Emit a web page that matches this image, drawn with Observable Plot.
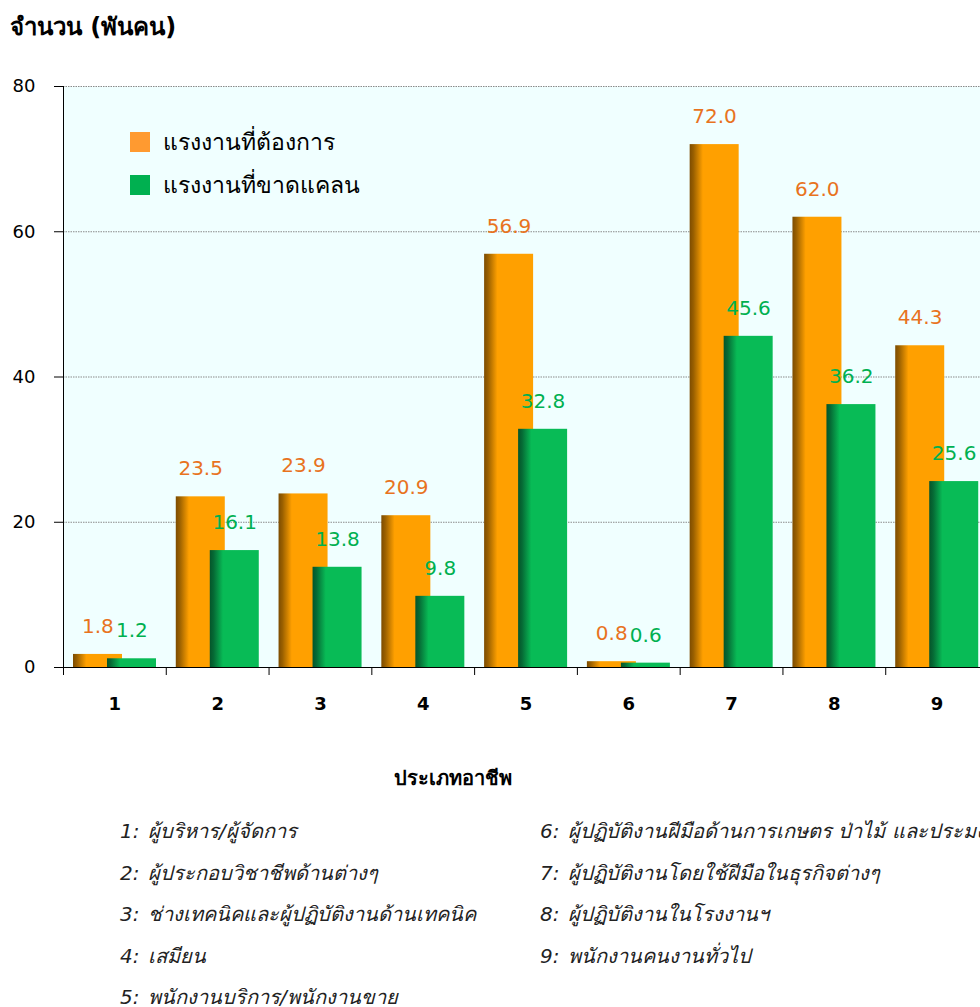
<!DOCTYPE html>
<html>
<head>
<meta charset="utf-8">
<script src="https://cdn.jsdelivr.net/npm/d3@7"></script>
<script src="https://cdn.jsdelivr.net/npm/@observablehq/plot@0.6"></script>
<style>
  html, body { margin:0; padding:0; background:#fff; overflow:hidden; width:980px; height:1007px; }
  #wrap { position:relative; width:1000px; height:1007px; font-family:Tahoma, "DejaVu Sans", "Noto Sans", sans-serif; }
  #ytitle { position:absolute; left:10px; top:7px; font-size:24px; font-weight:bold; color:#000; white-space:nowrap; }
  #chart { position:absolute; left:0; top:0; }
  #legend { position:absolute; left:130px; top:120px; font-size:23px; color:#000; }
  #legend .row { display:flex; align-items:center; height:43px; white-space:nowrap; }
  #legend .sw { width:20px; height:20px; margin-right:13px; }
  #xtitle { position:absolute; left:453px; top:762px; transform:translateX(-50%); font-size:20px; font-weight:bold; white-space:nowrap; }
  .occ { position:absolute; font-size:20px; font-style:italic; color:#222; white-space:nowrap; }
  .occ span.n { display:inline-block; width:28px; }
</style>
</head>
<body>
<div id="wrap">
  <div id="chart"></div>
  <div id="ytitle"></div>
  <div id="legend"></div>
  <div id="xtitle"></div>
  <div id="occs"></div>
</div>
<script>
const categories = ["1","2","3","4","5","6","7","8","9"];
const wanted = [1.8, 23.5, 23.9, 20.9, 56.9, 0.8, 72.0, 62.0, 44.3];
const shortage = [1.2, 16.1, 13.8, 9.8, 32.8, 0.6, 45.6, 36.2, 25.6];
const yTicks = [0, 20, 40, 60, 80];
const seriesNames = ["แรงงานที่ต้องการ", "แรงงานที่ขาดแคลน"];
const yTitle = "จำนวน (พันคน)";
const xTitle = "ประเภทอาชีพ";
const occupations = [
  "ผู้บริหาร/ผู้จัดการ",
  "ผู้ประกอบวิชาชีพด้านต่างๆ",
  "ช่างเทคนิคและผู้ปฏิบัติงานด้านเทคนิค",
  "เสมียน",
  "พนักงานบริการ/พนักงานขาย",
  "ผู้ปฏิบัติงานฝีมือด้านการเกษตร ป่าไม้ และประมง",
  "ผู้ปฏิบัติงานโดยใช้ฝีมือในธุรกิจต่างๆ",
  "ผู้ปฏิบัติงานในโรงงานฯ",
  "พนักงานคนงานทั่วไป"
];

const data = categories.map((c, i) => ({cat: c, wanted: wanted[i], shortage: shortage[i]}));
const W = 1000, mL = 63, mR = 12;
const bw = (W - mL - mR) / categories.length;

const svg = Plot.plot({
  width: W,
  height: 730,
  marginTop: 86,
  marginLeft: mL,
  marginRight: mR,
  marginBottom: 63,
  style: {fontFamily: "'DejaVu Sans', Verdana, sans-serif", fontSize: "18px", color: "#000", background: "transparent", overflow: "visible"},
  x: {type: "band", domain: categories, padding: 0, round: false, label: null},
  y: {domain: [0, 80], label: null},
  marks: [
    Plot.frame({fill: "#f0ffff", stroke: null}),
    Plot.gridY(yTicks.slice(1), {stroke: "#8a8a8a", strokeOpacity: 1, strokeDasharray: "1.5,1", strokeWidth: 1}),
    Plot.barY(data, {x: "cat", y: "wanted", fill: "url(#gOr)", insetLeft: 10, insetRight: bw - 59}),
    Plot.barY(data, {x: "cat", y: "shortage", fill: "url(#gGr)", insetLeft: 44, insetRight: bw - 93}),
    Plot.text(data, {x: "cat", y: "wanted", text: d => d.wanted.toFixed(1), dx: -17, dy: -28, fill: "#e8731e", fontSize: 20}),
    Plot.text(data, {x: "cat", y: "shortage", text: d => d.shortage.toFixed(1), dx: 17, dy: -28, fill: "#00b050", fontSize: 20}),
    Plot.ruleY([0], {stroke: "#000", strokeWidth: 1}),
    Plot.ruleX([categories[0]], {dx: -bw / 2, stroke: "#000", strokeWidth: 1}),
    Plot.axisY({ticks: yTicks, tickSize: 9, tickPadding: 19, fontSize: 18, stroke: "#000"}),
    Plot.axisX({tickSize: 0, tickPadding: 30, fontSize: 18, fontWeight: "bold"}),
    Plot.axisX({tickSize: 8, tickFormat: () => "", dx: -bw / 2, stroke: "#000"})
  ]
});

svg.insertAdjacentHTML("afterbegin", `
<defs>
  <linearGradient id="gOr" x1="0" x2="1" y1="0" y2="0">
    <stop offset="0" stop-color="#7d4c00"/>
    <stop offset="0.08" stop-color="#9a6000"/>
    <stop offset="0.27" stop-color="#ffa000"/>
    <stop offset="1" stop-color="#ffa000"/>
  </linearGradient>
  <linearGradient id="gGr" x1="0" x2="1" y1="0" y2="0">
    <stop offset="0" stop-color="#04552a"/>
    <stop offset="0.08" stop-color="#066a35"/>
    <stop offset="0.27" stop-color="#08bb56"/>
    <stop offset="1" stop-color="#08bb56"/>
  </linearGradient>
</defs>`);
document.getElementById("chart").appendChild(svg);

document.getElementById("ytitle").textContent = yTitle;
document.getElementById("xtitle").textContent = xTitle;
const legendColors = ["#ff9a30", "#00b050"];
document.getElementById("legend").innerHTML = seriesNames.map((s, i) =>
  `<div class="row"><div class="sw" style="background:${legendColors[i]}"></div><div>${s}</div></div>`).join("");

const occs = document.getElementById("occs");
occupations.forEach((o, i) => {
  const col = i < 5 ? 0 : 1;
  const row = i < 5 ? i : i - 5;
  const d = document.createElement("div");
  d.className = "occ";
  d.style.left = (col === 0 ? 120 : 540) + "px";
  d.style.top = (815 + row * 41.5) + "px";
  d.innerHTML = `<span class="n">${i + 1}:</span>${o}`;
  occs.appendChild(d);
});
</script>
</body>
</html>
